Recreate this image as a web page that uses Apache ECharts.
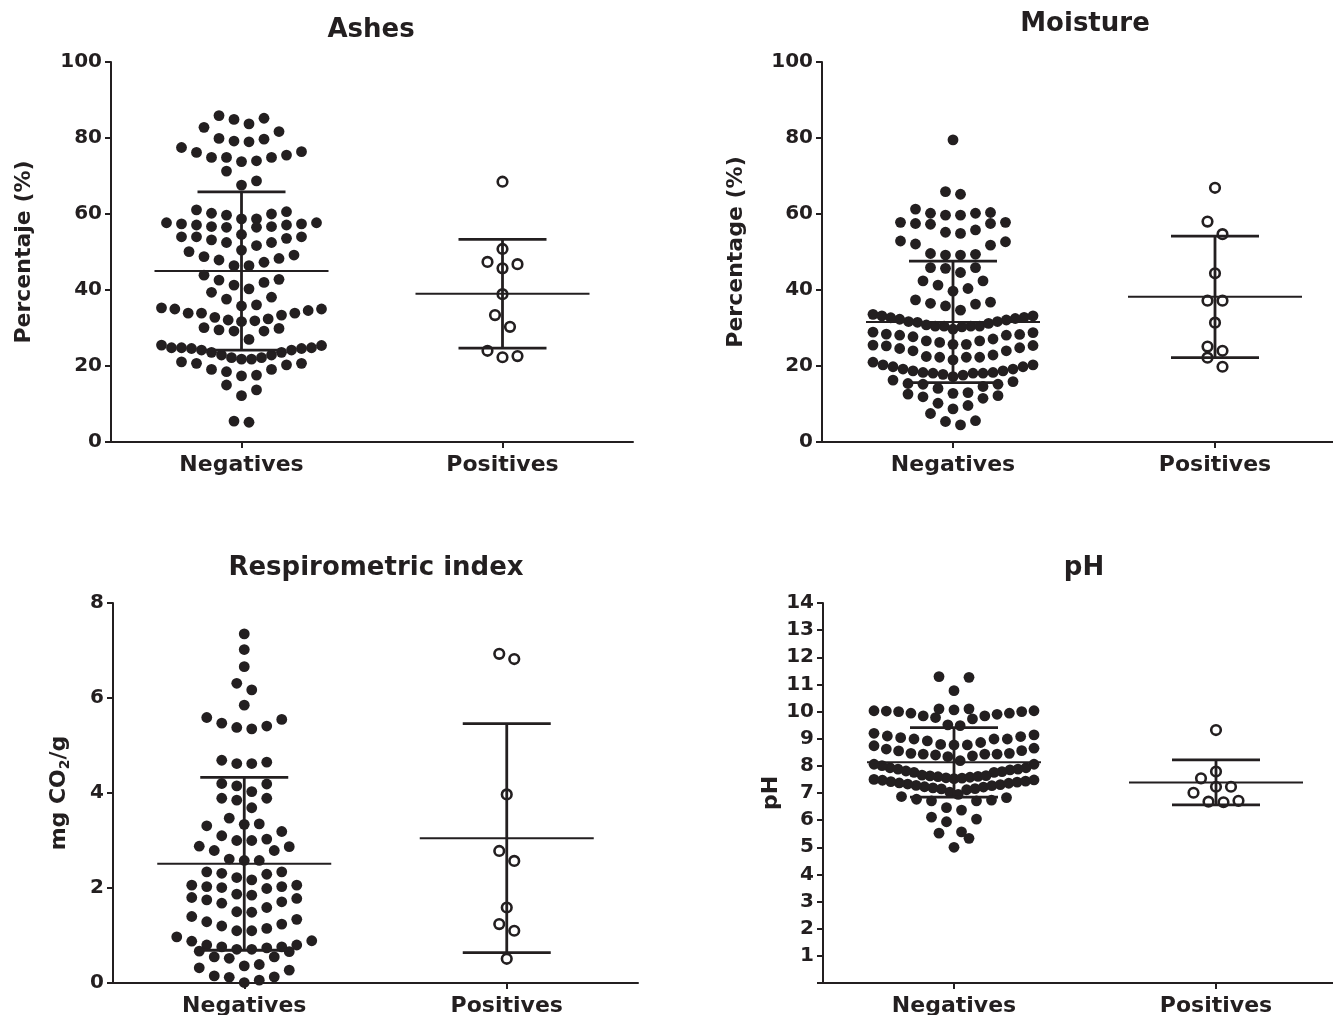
<!DOCTYPE html>
<html><head><meta charset="utf-8">
<script src="https://cdn.jsdelivr.net/npm/echarts@6/dist/echarts.min.js"></script>
<style>html,body{margin:0;padding:0;background:#fff}#c{width:1333px;height:1015px}</style>
</head><body><div id="c"></div>
<script>
// ---------------- DATA ----------------
const categories = ['Negatives', 'Positives'];

const ashesNeg = [85.9,85.2,84.9,83.7,82.8,
  81.7,79.9,79.7,79.2,79.0,
  77.5,76.2,74.9,74.9,73.8,74.0,74.9,75.5,76.4,
  71.3,68.7,67.6,61.1,
  60.6,60.0,58.7,57.7,57.4,57.1,56.7,56.7,57.1,57.4,57.7,58.7,59.7,60.2,56.5,56.5,
  54.0,54.0,53.2,52.5,52.5,53.6,54.0,54.6,
  51.7,50.5,50.1,
  49.2,48.3,47.9,48.8,47.3,46.4,46.4,
  42.8,42.0,43.9,40.3,39.4,41.3,42.6,
  37.6,35.8,35.0,34.6,33.9,33.9,35.0,35.3,36.1,38.1,33.4,32.4,31.9,33.9,32.8,32.1,31.7,
  29.5,30.1,29.2,29.9,29.2,27.0,25.5,
  25.4,24.8,24.6,24.2,23.6,22.9,22.2,21.8,21.8,22.2,22.9,23.6,24.2,24.6,24.8,24.8,
  21.1,20.7,19.1,18.5,17.4,17.6,19.1,20.3,20.7,
  13.7,15.0,12.2,
  5.2,5.5];
const ashesPos = [68.5,50.8,46.8,45.7,47.4,38.9,33.4,30.3,24.0,22.3,22.6];
const ashesMean = [45.0, 39.0];
const ashesSD = [20.8, 14.3];

const moistureNeg = [79.5,
  65.2,65.9,
  61.3,
  60.2,59.7,57.8,57.5,55.8,57.3,54.9,57.5,55.2,57.8,59.7,60.2,60.4,
  52.7,51.8,52.9,52.1,
  49.4,49.2,49.2,49.6,
  45.9,45.7,44.6,45.9,
  42.4,41.3,40.4,42.4,39.7,
  36.8,36.3,34.7,35.8,36.5,37.4,33.6,
  33.2,32.8,32.5,32.1,31.7,31.5,30.5,30.5,30.3,30.5,30.5,30.8,31.2,31.7,32.3,32.7,33.2,
  28.9,28.4,28.1,27.7,26.6,26.2,25.7,26.6,27.1,28.1,28.3,28.8,29.7,
  25.5,25.3,24.8,24.0,22.5,22.3,21.6,22.3,22.3,22.9,24.0,24.6,25.4,25.7,
  20.3,19.8,19.2,18.7,18.3,18.1,18.1,17.6,17.2,17.8,18.1,18.3,18.7,19.2,19.8,20.3,21.0,
  16.3,15.4,15.2,14.1,14.6,15.2,15.9,
  12.2,11.5,12.8,13.0,11.9,12.6,
  9.6,8.7,10.2,7.5,
  5.6,4.5,5.4];
const moisturePos = [66.9,58.0,54.7,44.4,37.2,37.2,31.4,25.1,24.0,22.2,19.8];
const moistureMean = [31.6, 38.2];
const moistureSD = [16.0, 16.0];

const respNeg = [7.35,7.02,6.66,6.31,6.17,5.85,
  5.59,5.47,5.38,5.35,5.41,5.55,
  4.65,4.62,4.62,4.69,
  4.20,4.15,4.19,
  4.03,3.85,3.89,3.89,3.69,
  3.47,3.34,3.31,3.35,3.19,
  3.10,3.00,2.87,2.79,2.88,3.00,3.03,2.79,
  2.58,2.58,2.61,
  2.34,2.31,2.22,2.29,2.34,2.17,2.06,2.03,2.01,1.99,2.03,2.06,1.87,1.85,1.78,1.71,1.59,1.68,1.75,1.80,1.49,1.50,
  1.40,1.29,1.20,1.10,1.10,1.15,1.24,1.34,
  0.89,0.80,0.76,0.74,0.71,0.66,0.67,0.71,0.76,0.80,0.88,0.97,
  0.55,0.52,0.36,0.32,0.39,0.27,0.55,
  0.15,0.12,0.01,0.06,0.13];
const respPos = [6.93,6.82,3.97,2.78,2.57,1.59,1.24,1.10,0.51];
const respMean = [2.51, 3.05];
const respSD = [1.82, 2.41];

const phNeg = [11.26,11.29,10.77,
  10.06,10.03,10.00,9.94,9.84,9.78,10.10,10.10,9.73,9.84,9.90,9.94,10.00,10.02,10.03,
  9.51,9.48,
  9.20,9.10,9.04,8.99,8.92,8.99,8.99,9.08,9.14,
  8.79,8.77,8.62,8.55,8.46,8.43,8.40,8.37,8.34,8.43,8.43,8.46,8.56,8.65,8.74,8.77,8.86,
  8.19,8.06,7.93,7.88,7.85,7.79,7.76,7.76,7.81,7.88,7.93,8.01,8.06,
  7.12,7.15,7.16,7.19,7.22,7.23,7.27,7.28,7.31,7.33,7.36,7.37,7.40,7.42,7.44,7.47,7.48,7.50,7.53,7.55,7.56,7.58,7.60,7.61,7.63,7.64,7.66,
  7.03,6.87,6.77,6.71,6.71,6.74,6.83,6.95,
  6.37,6.46,
  6.04,5.94,6.11,
  5.52,5.33,5.57,
  5.00];
const phPos = [9.32,7.79,7.54,7.23,7.23,7.01,6.71,6.68,6.66];
const phMean = [8.13, 7.39];
const phSD = [1.28, 0.83];

const yTicksPct = [0, 100, 20];   // min, max, step
const yTicksResp = [0, 8, 2];
const yTicksPh = [0, 14, 1];

// ---------------- STYLE / LAYOUT ----------------
const INK = '#231f20';
const FONT = '"DejaVu Sans", Verdana, sans-serif';
const BIN_PX = 15, SLOT_PX = 15, MAX_SPAN_PX = 160;
const MEAN_HALF = 87, CAP_HALF = 44;

const panels = [
  {title:'Ashes', tx:371, ty:17, grid:{left:111, top:62, width:522, height:380},
   yName:'Percentaje (%)', nameGap:76, ticks:yTicksPct, neg:ashesNeg, pos:ashesPos, mean:ashesMean, sd:ashesSD},
  {title:'Moisture', tx:1085, ty:11, grid:{left:822, top:62, width:524, height:380},
   yName:'Percentage (%)', nameGap:75, ticks:yTicksPct, neg:moistureNeg, pos:moisturePos, mean:moistureMean, sd:moistureSD},
  {title:'Respirometric index', tx:376, ty:555, grid:{left:113, top:603, width:525, height:380},
   yName:'mg CO{sub|2}/g', nameGap:41, ticks:yTicksResp, neg:respNeg, pos:respPos, mean:respMean, sd:respSD},
  {title:'pH', tx:1084, ty:555, grid:{left:823, top:603, width:524, height:380},
   yName:'pH', nameGap:41, ticks:yTicksPh, hideZero:true, neg:phNeg, pos:phPos, mean:phMean, sd:phSD}
];

// beeswarm (row) layout: bins values into rows and spreads each row horizontally
function swarm(values, pxPerUnit) {
  const idx = values.map((v, i) => i).sort((a, b) => values[a] - values[b]);
  const off = new Array(values.length).fill(0);
  let i = 0;
  while (i < idx.length) {
    const start = values[idx[i]];
    let j = i;
    while (j < idx.length && (values[idx[j]] - start) * pxPerUnit < BIN_PX) j++;
    const n = j - i;
    const s = n > 1 ? Math.min(SLOT_PX, MAX_SPAN_PX / (n - 1)) : 0;
    for (let k = 0; k < n; k++) {
      let pos;
      if (n % 2 === 1) { const m = Math.ceil(k / 2); pos = k === 0 ? 0 : (k % 2 === 1 ? m : -m); }
      else { const m = Math.floor(k / 2) + 0.5; pos = k % 2 === 0 ? m : -m; }
      off[idx[i + k]] = pos * s;
    }
    i = j;
  }
  return off;
}

function dotRenderer(hollow) {
  return function (params, api) {
    const p = api.coord([api.value(0), api.value(1)]);
    return {
      type: 'circle',
      shape: {cx: p[0] + api.value(2), cy: p[1], r: hollow ? 4.8 : 5.4},
      style: hollow ? {fill: 'none', stroke: INK, lineWidth: 2.6} : {fill: INK}
    };
  };
}

function errRenderer(params, api) {
  const x = api.value(0), m = api.value(1), sd = api.value(2);
  const pm = api.coord([x, m]), pu = api.coord([x, m + sd]), pl = api.coord([x, m - sd]);
  const cx = pm[0];
  const st = w => ({stroke: INK, lineWidth: w});
  return {type: 'group', children: [
    {type: 'line', shape: {x1: cx - MEAN_HALF, y1: pm[1], x2: cx + MEAN_HALF, y2: pm[1]}, style: st(2)},
    {type: 'line', shape: {x1: cx, y1: pu[1], x2: cx, y2: pl[1]}, style: st(2.8)},
    {type: 'line', shape: {x1: cx - CAP_HALF, y1: pu[1], x2: cx + CAP_HALF, y2: pu[1]}, style: st(2.8)},
    {type: 'line', shape: {x1: cx - CAP_HALF, y1: pl[1], x2: cx + CAP_HALF, y2: pl[1]}, style: st(2.8)}
  ]};
}

const titles = [], grids = [], xAxes = [], yAxes = [], series = [];
panels.forEach((p, g) => {
  titles.push({text: p.title, left: p.tx, top: p.ty, textAlign: 'center', padding: 0,
    textStyle: {color: INK, fontSize: 26, fontWeight: 'bold', fontFamily: FONT}});
  grids.push(Object.assign({containLabel: false, outerBoundsMode: 'none'}, p.grid));
  xAxes.push({type: 'category', gridIndex: g, data: categories, boundaryGap: true,
    axisLine: {show: true, lineStyle: {color: INK, width: 2}},
    axisTick: {show: true, alignWithLabel: true, length: 6, lineStyle: {color: INK, width: 2}},
    axisLabel: {color: INK, fontSize: 22, fontWeight: 'bold', fontFamily: FONT, margin: 12},
    splitLine: {show: false}});
  const [mn, mx, step] = p.ticks;
  yAxes.push({type: 'value', gridIndex: g, min: mn, max: mx, interval: step,
    name: p.yName, nameLocation: 'middle', nameGap: p.nameGap,
    nameTextStyle: {color: INK, fontSize: 22, fontWeight: 'bold', fontFamily: FONT,
      rich: {sub: {fontSize: 14, fontWeight: 'bold', fontFamily: FONT, color: INK, verticalAlign: 'bottom', padding: [12, 0, 0, 0]}}},
    axisLine: {show: true, lineStyle: {color: INK, width: 2}},
    axisTick: {show: true, length: 6, lineStyle: {color: INK, width: 2}},
    axisLabel: {color: INK, fontSize: 20, fontWeight: 'bold', fontFamily: FONT, margin: 9,
      formatter: v => (p.hideZero && v === 0) ? '' : String(v)},
    splitLine: {show: false}});
  const k = p.grid.height / (mx - mn);
  [[p.neg, 0, false], [p.pos, 1, true]].forEach(([vals, ci, hollow]) => {
    const off = swarm(vals, k);
    series.push({type: 'custom', xAxisIndex: g, yAxisIndex: g, z: 2, clip: false,
      encode: {x: 0, y: 1},
      renderItem: dotRenderer(hollow),
      data: vals.map((v, i) => [ci, v, off[i]])});
  });
  series.push({type: 'custom', xAxisIndex: g, yAxisIndex: g, z: 3, clip: false,
    encode: {x: 0, y: 1},
    renderItem: errRenderer,
    data: categories.map((c, i) => [i, p.mean[i], p.sd[i]])});
});

const chart = echarts.init(document.getElementById('c'), null, {renderer: 'canvas'});
chart.setOption({
  animation: false,
  backgroundColor: '#ffffff',
  title: titles, grid: grids, xAxis: xAxes, yAxis: yAxes, series: series
});
</script>
</body></html>
